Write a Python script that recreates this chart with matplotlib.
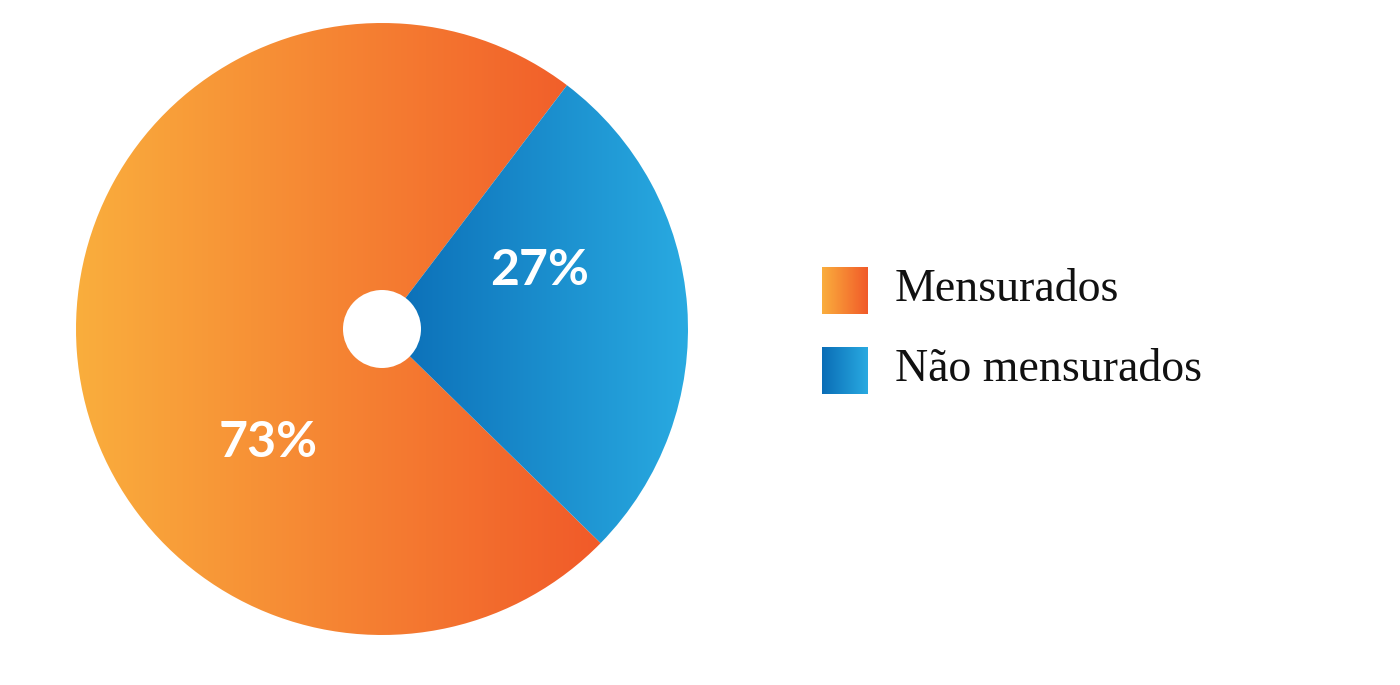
import matplotlib
matplotlib.use("Agg")
import matplotlib.pyplot as plt
import numpy as np
from matplotlib.colors import LinearSegmentedColormap
from matplotlib.patches import Circle, Rectangle

# data
categories = ["Mensurados", "Não mensurados"]
shares = [73, 27]
pct_labels = ["73%", "27%"]

# gradient ends per category (left -> right)
grad_colors = [("#FAAE3D", "#F15A29"), ("#0A6DB6", "#29AAE1")]

W, H = 1400, 685
CX, CY, R = 382, H - 329, 306
HOLE_R = 39
START = 52.8
# label placement (angle in degrees, fraction of radius)
label_pos = [(225.0, 0.525), (20.5, 0.55)]


def gradient_fill(ax, patch, c0, c1):
    bb = patch.get_path().transformed(patch.get_patch_transform()).get_extents()
    cmap = LinearSegmentedColormap.from_list("g", [c0, c1])
    grad = np.linspace(0, 1, 256).reshape(1, -1)
    im = ax.imshow(grad, cmap=cmap, aspect="auto", interpolation="bilinear",
                   extent=(bb.x0, bb.x1, bb.y0, bb.y1), zorder=patch.get_zorder())
    im.set_clip_path(patch)


fig = plt.figure(figsize=(14, 6.85), dpi=100)
ax = fig.add_axes([0, 0, 1, 1])

wedges, _ = ax.pie(shares, startangle=START, counterclock=True, radius=R,
                   center=(CX, CY), frame=True,
                   wedgeprops=dict(linewidth=0, facecolor="none"))
ax.set_xlim(0, W)
ax.set_ylim(0, H)
ax.set_aspect("equal")
ax.set_axis_off()

for w, (c0, c1) in zip(wedges, grad_colors):
    gradient_fill(ax, w, c0, c1)

ax.add_patch(Circle((CX, CY), HOLE_R, facecolor="white", edgecolor="none", zorder=5))

for txt, (ang, frac) in zip(pct_labels, label_pos):
    a = np.deg2rad(ang)
    ax.text(CX + frac * R * np.cos(a), CY + frac * R * np.sin(a), txt,
            color="white", fontsize=36, fontfamily="Lato", fontweight="bold",
            ha="center", va="center", zorder=6)

# legend
for i, (name, (c0, c1)) in enumerate(zip(categories, grad_colors)):
    y = H - 290 - i * 80
    sq = Rectangle((822, y - 23.5), 46, 47, facecolor="none", edgecolor="none")
    ax.add_patch(sq)
    gradient_fill(ax, sq, c0, c1)
    ax.text(895, y, name, fontsize=33, fontfamily="Liberation Serif",
            color="#111111", ha="left", va="center")

fig.savefig("out.png", dpi=100, facecolor="white")
